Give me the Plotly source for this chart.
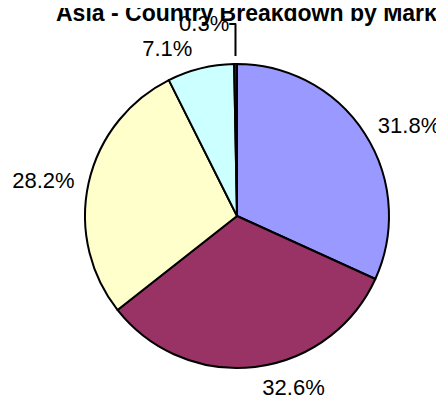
import plotly.graph_objects as go

labels = ["A", "B", "C", "D", "E"]
values = [31.8, 32.6, 28.2, 7.1, 0.3]
colors = ["#9999FF", "#993366", "#FFFFCC", "#CCFFFF", "#660066"]
title = "Asia - Country Breakdown by Market"

W, H = 444, 409
cx, cy, r = 229, 208, 152     # pie centre (px) and radius
rl = 160                      # radius of the label ring

def dom(rad):
    return dict(x=[(cx - rad) / W, (cx + rad) / W], y=[1 - (cy + rad) / H, 1 - (cy - rad) / H])

fig = go.Figure()
fig.add_trace(go.Pie(
    labels=labels, values=values, sort=False, direction="clockwise", rotation=0,
    marker=dict(colors=colors, line=dict(color="black", width=2)),
    textinfo="none", domain=dom(r), showlegend=False, automargin=False, hoverinfo="skip",
))
fig.add_trace(go.Pie(
    labels=labels, values=values, sort=False, direction="clockwise", rotation=0,
    marker=dict(colors=["rgba(0,0,0,0)"] * 5, line=dict(width=0)),
    texttemplate="%{percent:.1%}", textposition="outside",
    textfont=dict(family="Liberation Sans, Arial", size=22, color="black"),
    domain=dom(rl), showlegend=False, automargin=False, hoverinfo="skip",
))
fig.update_layout(
    width=W, height=H, margin=dict(l=0, r=0, t=0, b=0),
    paper_bgcolor="white", plot_bgcolor="white",
    annotations=[dict(text=f"<b>{title}</b>", x=46 / W, xanchor="left", y=1, yanchor="top",
                      xref="paper", yref="paper", yshift=10, showarrow=False,
                      font=dict(family="Liberation Sans, Arial", size=23, color="black"))],
)
fig.write_html("out.html")
